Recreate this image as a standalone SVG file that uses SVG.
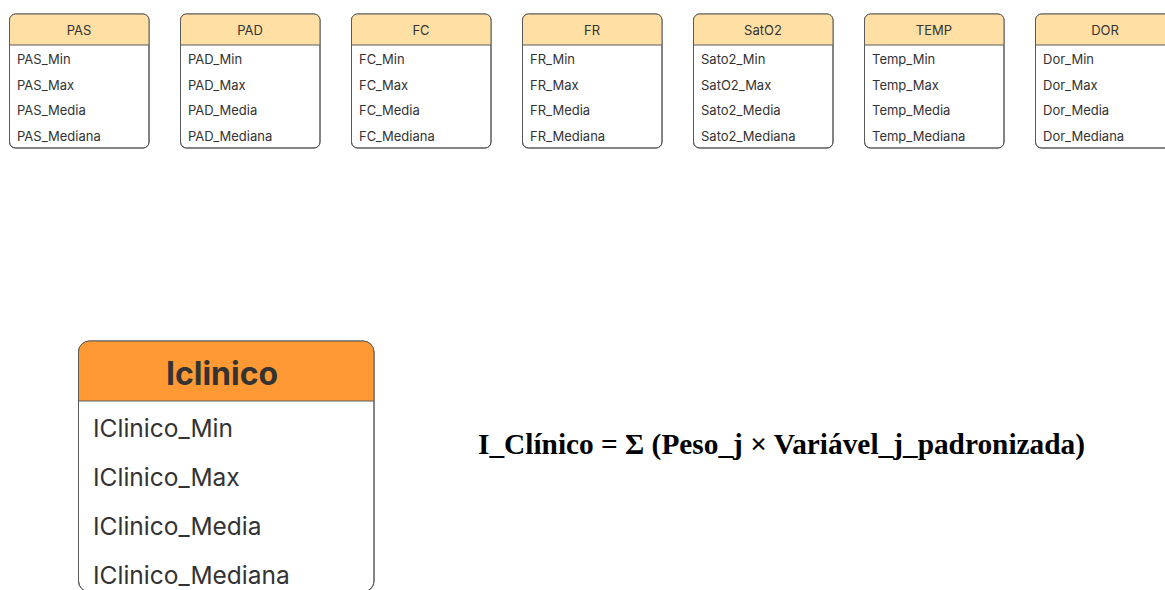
<svg xmlns="http://www.w3.org/2000/svg" width="1165" height="590" viewBox="0 0 1165 590">
  <style>
    .box { fill: #ffffff; stroke: #5a5a5a; stroke-width: 1; }
    .frame { fill: none; stroke: #5a5a5a; stroke-width: 1; }
    .hdr { fill: #ffdfa3; }
    .hdr-big { fill: #ff9933; }
    .sep { stroke: #5a5a5a; stroke-width: 1; }
    .title { font-family: Inter, "Liberation Sans", sans-serif; font-size: 13px; fill: #333333; text-anchor: middle; }
    .field { font-family: Inter, "Liberation Sans", sans-serif; font-size: 13px; fill: #333333; }
    .title-big { font-family: Inter, "Liberation Sans", sans-serif; font-size: 32px; font-weight: bold; fill: #333333; text-anchor: middle; }
    .field-big { font-family: Inter, "Liberation Sans", sans-serif; font-size: 24.5px; fill: #333333; }
    .formula { font-family: "Liberation Serif", "Times New Roman", serif; font-size: 28.5px; font-weight: bold; fill: #000000; }
  </style>
  <defs>
    <!-- header shape: rounded top corners, square bottom -->
    <path id="hdrSmall" d="M9.5,45 V20 a6,6 0 0 1 6,-6 H143 a6,6 0 0 1 6,6 V45 Z"/>
  </defs>
  <rect width="1165" height="590" fill="#ffffff"/>

  <g id="connectors"/>

  <g id="node-pas" transform="translate(0,0)">
    <rect class="box" x="9.5" y="14" width="139.5" height="134" rx="6"/>
    <use href="#hdrSmall" class="hdr"/>
    <rect class="frame" x="9.5" y="14" width="139.5" height="134" rx="6"/>
    <line class="sep" x1="9.5" y1="45" x2="149" y2="45"/>
    <text class="title" x="79" y="35">PAS</text>
    <text class="field" x="17" y="64">PAS_Min</text>
    <text class="field" x="17" y="90">PAS_Max</text>
    <text class="field" x="17" y="115">PAS_Media</text>
    <text class="field" x="17" y="141">PAS_Mediana</text>
  </g>

  <g id="node-pad" transform="translate(171,0)">
    <rect class="box" x="9.5" y="14" width="139.5" height="134" rx="6"/>
    <use href="#hdrSmall" class="hdr"/>
    <rect class="frame" x="9.5" y="14" width="139.5" height="134" rx="6"/>
    <line class="sep" x1="9.5" y1="45" x2="149" y2="45"/>
    <text class="title" x="79" y="35">PAD</text>
    <text class="field" x="17" y="64">PAD_Min</text>
    <text class="field" x="17" y="90">PAD_Max</text>
    <text class="field" x="17" y="115">PAD_Media</text>
    <text class="field" x="17" y="141">PAD_Mediana</text>
  </g>

  <g id="node-fc" transform="translate(342,0)">
    <rect class="box" x="9.5" y="14" width="139.5" height="134" rx="6"/>
    <use href="#hdrSmall" class="hdr"/>
    <rect class="frame" x="9.5" y="14" width="139.5" height="134" rx="6"/>
    <line class="sep" x1="9.5" y1="45" x2="149" y2="45"/>
    <text class="title" x="79" y="35">FC</text>
    <text class="field" x="17" y="64">FC_Min</text>
    <text class="field" x="17" y="90">FC_Max</text>
    <text class="field" x="17" y="115">FC_Media</text>
    <text class="field" x="17" y="141">FC_Mediana</text>
  </g>

  <g id="node-fr" transform="translate(513,0)">
    <rect class="box" x="9.5" y="14" width="139.5" height="134" rx="6"/>
    <use href="#hdrSmall" class="hdr"/>
    <rect class="frame" x="9.5" y="14" width="139.5" height="134" rx="6"/>
    <line class="sep" x1="9.5" y1="45" x2="149" y2="45"/>
    <text class="title" x="79" y="35">FR</text>
    <text class="field" x="17" y="64">FR_Min</text>
    <text class="field" x="17" y="90">FR_Max</text>
    <text class="field" x="17" y="115">FR_Media</text>
    <text class="field" x="17" y="141">FR_Mediana</text>
  </g>

  <g id="node-sato2" transform="translate(684,0)">
    <rect class="box" x="9.5" y="14" width="139.5" height="134" rx="6"/>
    <use href="#hdrSmall" class="hdr"/>
    <rect class="frame" x="9.5" y="14" width="139.5" height="134" rx="6"/>
    <line class="sep" x1="9.5" y1="45" x2="149" y2="45"/>
    <text class="title" x="79" y="35">SatO2</text>
    <text class="field" x="17" y="64">Sato2_Min</text>
    <text class="field" x="17" y="90">SatO2_Max</text>
    <text class="field" x="17" y="115">Sato2_Media</text>
    <text class="field" x="17" y="141">Sato2_Mediana</text>
  </g>

  <g id="node-temp" transform="translate(855,0)">
    <rect class="box" x="9.5" y="14" width="139.5" height="134" rx="6"/>
    <use href="#hdrSmall" class="hdr"/>
    <rect class="frame" x="9.5" y="14" width="139.5" height="134" rx="6"/>
    <line class="sep" x1="9.5" y1="45" x2="149" y2="45"/>
    <text class="title" x="79" y="35">TEMP</text>
    <text class="field" x="17" y="64">Temp_Min</text>
    <text class="field" x="17" y="90">Temp_Max</text>
    <text class="field" x="17" y="115">Temp_Media</text>
    <text class="field" x="17" y="141">Temp_Mediana</text>
  </g>

  <g id="node-dor" transform="translate(1026,0)">
    <rect class="box" x="9.5" y="14" width="139.5" height="134" rx="6"/>
    <use href="#hdrSmall" class="hdr"/>
    <rect class="frame" x="9.5" y="14" width="139.5" height="134" rx="6"/>
    <line class="sep" x1="9.5" y1="45" x2="149" y2="45"/>
    <text class="title" x="79" y="35">DOR</text>
    <text class="field" x="17" y="64">Dor_Min</text>
    <text class="field" x="17" y="90">Dor_Max</text>
    <text class="field" x="17" y="115">Dor_Media</text>
    <text class="field" x="17" y="141">Dor_Mediana</text>
  </g>

  <g id="node-iclinico">
    <rect class="box" x="78.5" y="341" width="295.5" height="251" rx="11"/>
    <path class="hdr-big" d="M78.5,401 V352 a11,11 0 0 1 11,-11 H363 a11,11 0 0 1 11,11 V401 Z"/>
    <rect class="frame" x="78.5" y="341" width="295.5" height="251" rx="11"/>
    <line class="sep" x1="78.5" y1="401" x2="374" y2="401"/>
    <text class="title-big" x="222" y="385">Iclinico</text>
    <text class="field-big" x="93" y="437">IClinico_Min</text>
    <text class="field-big" x="93" y="486">IClinico_Max</text>
    <text class="field-big" x="93" y="535">IClinico_Media</text>
    <text class="field-big" x="93" y="584">IClinico_Mediana</text>
  </g>

  <g id="formula">
    <text class="formula" x="478" y="454" textLength="607" lengthAdjust="spacingAndGlyphs">I_Clínico = Σ (Peso_j × Variável_j_padronizada)</text>
  </g>
</svg>
